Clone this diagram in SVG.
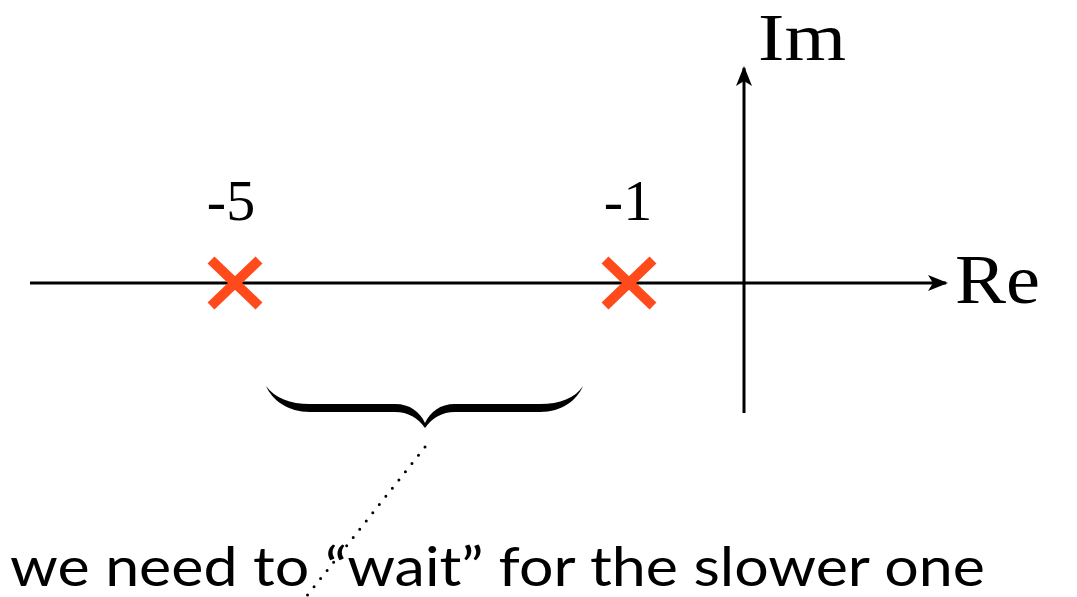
<svg xmlns="http://www.w3.org/2000/svg" width="1077" height="597" viewBox="0 0 1077 597">
<defs>
<style>
.axis{stroke:#000;stroke-width:3;fill:none}
.serif{font-family:"Liberation Serif","DejaVu Serif",serif;fill:#000}
.pole{stroke:#FF4A1C;stroke-width:10;stroke-linecap:butt}
.note{font-family:Lato,"Open Sans",sans-serif;fill:#000}
</style>
<marker id="arr" viewBox="0 0 20 16" refX="18" refY="8" markerWidth="20" markerHeight="16" markerUnits="userSpaceOnUse" orient="auto">
<path d="M0,0 L20,8 L0,16 L5,8 Z" fill="#000"/>
</marker>
</defs>
<rect width="1077" height="597" fill="#fff"/>
<g id="connectors">
<line id="re-axis" class="axis" x1="30" y1="283" x2="946" y2="283" marker-end="url(#arr)"/>
<line id="im-axis" class="axis" x1="744" y1="413" x2="744" y2="68" marker-end="url(#arr)"/>
<line id="pointer" x1="425" y1="447" x2="306" y2="597" stroke="#000" stroke-width="3" stroke-dasharray="0 10.5" stroke-linecap="round"/>
</g>
<g id="label-im"><text class="serif" x="758" y="60" font-size="67" textLength="88" lengthAdjust="spacingAndGlyphs">Im</text></g>
<g id="label-re"><text class="serif" x="955" y="303" font-size="70" textLength="85" lengthAdjust="spacingAndGlyphs">Re</text></g>
<g id="pole-5">
<text class="serif" x="231" y="220" font-size="58" text-anchor="middle">-5</text>
<path class="pole" d="M211,260 L259,306 M259,260 L211,306"/>
</g>
<g id="pole-1">
<text class="serif" x="628" y="220" font-size="58" text-anchor="middle">-1</text>
<path class="pole" d="M605,260 L653,306 M653,260 L605,306"/>
</g>
<g id="brace">
<path d="M266,386 C275,398 290,404 310,404 L395,404 C410,404 420,412 425,423 C430,412 440,404 455,404 L540,404 C560,404 575,398 583,386 C577,400 562,412 540,412 L455,412 C442,412 432,418 425,428 C418,418 408,412 395,412 L310,412 C288,412 272,400 266,386 Z" fill="#000"/>
</g>
<g id="note">
<text class="note" x="10" y="586" font-size="55" textLength="975" lengthAdjust="spacingAndGlyphs">we need to “wait” for the slower one</text>
</g>
</svg>
